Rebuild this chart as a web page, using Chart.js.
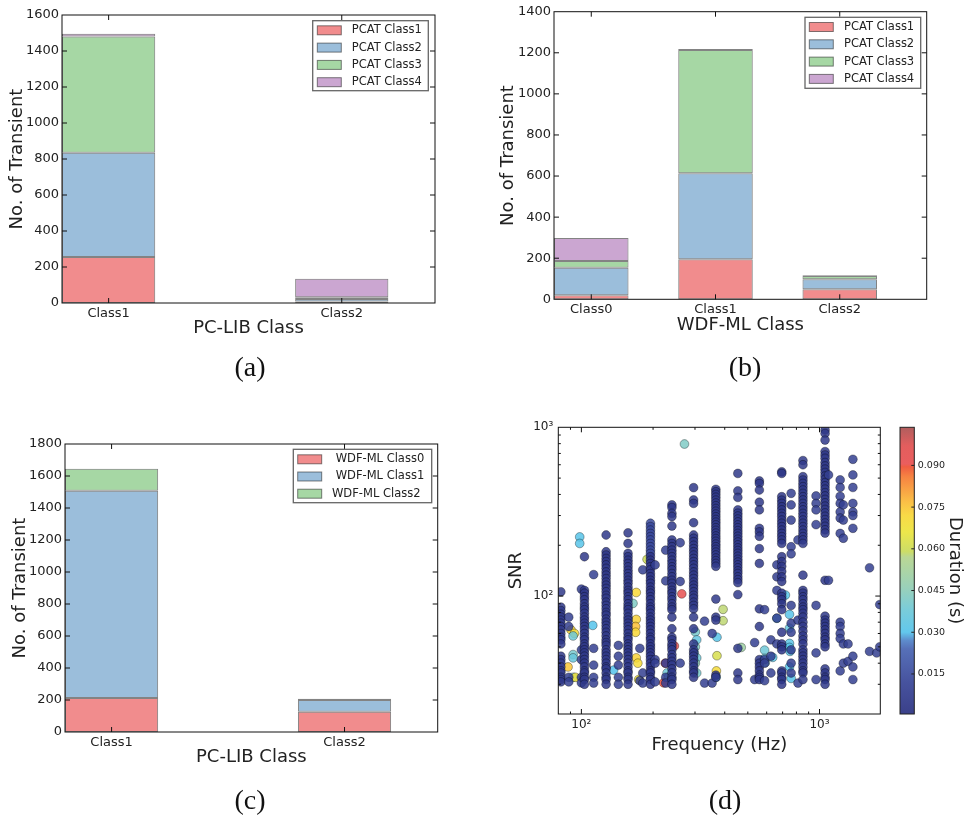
<!DOCTYPE html>
<html>
<head>
<meta charset="utf-8">
<script src="https://cdn.jsdelivr.net/npm/chart.js@4.4.1/dist/chart.umd.min.js"></script>
<style>
body { margin: 0; background: #fff; }
#page { position: relative; width: 966px; height: 816px; overflow: hidden; }
canvas { position: absolute; left: 0; top: 0; }
.cap { position: absolute; font-family: 'Liberation Serif', serif; font-size: 28px; color: #111; transform: translate(-50%, -50%); }
</style>
</head>
<body>
<div id="page">
  <canvas id="ca" width="966" height="816"></canvas>
  <canvas id="cb" width="966" height="816"></canvas>
  <canvas id="cc" width="966" height="816"></canvas>
  <canvas id="cd" width="966" height="816"></canvas>
  <canvas id="cbar" width="966" height="816"></canvas>
  <div class="cap" style="left:250px;top:367px">(a)</div>
  <div class="cap" style="left:745px;top:367px">(b)</div>
  <div class="cap" style="left:250px;top:800px">(c)</div>
  <div class="cap" style="left:725px;top:800px">(d)</div>
</div>
<script>
// ---- data ----
// (a) PC-LIB class broken down by PCAT class
const pclibClasses = ['Class1', 'Class2'];
const pcatLabels = ['PCAT Class1', 'PCAT Class2', 'PCAT Class3', 'PCAT Class4'];
const pclibPcat1 = [255, 8];
const pclibPcat2 = [580, 14];
const pclibPcat3 = [646, 10];
const pclibPcat4 = [15, 103];

// (b) WDF-ML class broken down by PCAT class
const wdfClasses = ['Class0', 'Class1', 'Class2'];
const wdfPcat1 = [20, 195, 49];
const wdfPcat2 = [134, 418, 48];
const wdfPcat3 = [33, 600, 17];
const wdfPcat4 = [111, 5, 3];

// (c) PC-LIB class broken down by WDF-ML class
const wdfLabels = [' WDF-ML Class0', ' WDF-ML Class1', 'WDF-ML Class2'];
const pclibWdf0 = [212, 127];
const pclibWdf1 = [1296, 73];
const pclibWdf2 = [138, 8];

// (d) SNR vs frequency, one column of triggers per frequency
const colFreq = [82, 88.5, 100, 103, 112.6, 127, 143, 157, 176, 181, 195, 195, 204, 226, 240, 260, 296, 329, 354, 367,
  454, 534, 559, 588, 625, 662, 694, 760, 812, 852, 967, 1055, 1091, 1221, 1259, 1318, 1381, 1622, 1738, 1790];
const colDur = [0.006, 0.009, 0.009, 0.005, 0.009, 0.005, 0.009, 0.005, 0.009, 0.009, 0.014, 0.004, 0.009, 0.009, 0.005, 0.009, 0.005, 0.009, 0.009, 0.006,
  0.006, 0.009, 0.005, 0.009, 0.009, 0.009, 0.004, 0.009, 0.009, 0.006, 0.009, 0.005, 0.009, 0.009, 0.009, 0.009, 0.009, 0.009, 0.009, 0.009];
const colSnr = [
  [106, 86, 82, 78, 75, 72, 69, 66, 63, 60, 57, 55, 52, 44, 42, 40, 38, 36, 35, 33, 32, 31],
  [75, 66, 33, 31],
  [110, 48, 42, 33, 30.6],
  [171, 108, 104, 99, 95, 90, 86, 83, 79, 75, 72, 69, 66, 63, 60, 57, 55, 52, 50, 48, 46, 44, 42, 40, 38, 36, 35, 33, 32, 30],
  [134, 49, 39, 33, 30.5],
  [230, 183, 175, 167, 160, 153, 146, 139, 133, 127, 121, 116, 111, 106, 101, 97, 92, 88, 84, 80, 77, 73, 70, 67, 64, 61, 58, 55, 53, 51, 48, 46, 44, 42, 40, 38, 37, 35, 33, 32, 30],
  [51, 44, 39, 33, 30],
  [237, 205, 179, 171, 163, 156, 149, 142, 136, 130, 124, 119, 113, 108, 104, 99, 95, 90, 86, 83, 79, 75, 72, 69, 66, 63, 60, 57, 55, 52, 50, 48, 46, 44, 42, 40, 38, 36, 35, 33, 32, 30],
  [49, 31.5],
  [143, 35, 30.5],
  [270, 258, 246, 235, 225, 215, 205, 196, 187, 179],
  [171, 163, 156, 149, 143, 136, 130, 124, 119, 113, 108, 104, 99, 95, 90, 86, 83, 79, 75, 72, 69, 66, 63, 60, 57, 55, 52, 50, 48, 46, 44, 42, 40, 38, 36, 35, 33, 32, 30],
  [153, 42, 40, 31],
  [187, 123, 40, 33, 30.5],
  [347, 335, 309, 296, 260, 215, 205, 196, 187, 179, 171, 163, 156, 149, 143, 136, 130, 124, 119, 113, 108, 104, 99, 95, 90, 86, 83, 75, 64, 57, 55, 52, 50, 48, 45, 43, 41, 39, 37, 35, 33, 32, 30],
  [207, 122, 40],
  [439, 371, 354, 272, 230, 220, 210, 200, 191, 183, 175, 167, 160, 153, 146, 139, 133, 127, 121, 116, 111, 106, 101, 97, 92, 88, 84, 75, 64, 52, 48, 46, 44, 42, 40, 38, 36, 35, 33],
  [71, 30.5],
  [60, 30.5],
  [429, 415, 400, 385, 370, 356, 343, 330, 318, 306, 295, 284, 274, 264, 254, 245, 236, 227, 219, 211, 203, 196, 189, 182, 175, 168, 162, 156, 150, 96, 75, 72, 34, 33],
  [533, 420, 384, 324, 310, 298, 286, 275, 264, 254, 244, 235, 226, 217, 209, 201, 193, 186, 179, 172, 165, 159, 153, 147, 141, 136, 130, 125, 120, 102, 49, 35, 32],
  [53, 32],
  [481, 465, 425, 360, 324, 252, 240, 226, 191, 156, 84, 66, 42, 40, 38, 36, 34, 33, 32],
  [83, 42, 40, 31.5],
  [55, 44, 35],
  [153, 130, 108, 74, 52],
  [545, 533, 388, 370, 354, 338, 324, 309, 296, 282, 270, 258, 246, 235, 225, 215, 205, 171, 160, 150, 140, 130, 122, 104, 99, 95, 90, 83, 61, 52, 50, 48, 36, 35, 33, 32, 30],
  [406, 347, 282, 196, 178, 88, 69, 61, 48, 40, 35],
  [215, 72, 30.5],
  [635, 600, 510, 487, 465, 445, 425, 406, 388, 371, 354, 338, 324, 309, 296, 282, 270, 258, 246, 235, 225, 215, 205, 133, 108, 104, 99, 95, 90, 86, 83, 79, 75, 70, 66, 62, 58, 55, 52, 48, 46, 44, 42, 40, 38, 36, 35, 32],
  [392, 354, 324, 265, 88, 46, 32],
  [964, 920, 840, 718, 685, 655, 618, 590, 565, 540, 515, 492, 470, 450, 430, 410, 392, 374, 357, 341, 326, 311, 297, 284, 271, 259, 247, 236, 124, 76, 72, 69, 66, 63, 60, 57, 55, 52, 50, 37, 35, 33, 32, 30],
  [522, 124],
  [488, 440, 390, 354, 315, 290, 235, 70, 66, 60, 56, 36],
  [347, 282, 220, 52, 40],
  [52, 41],
  [646, 522, 440, 354, 315, 300, 252, 44, 38, 32],
  [147, 47],
  [46],
  [89, 50]
];
// the longer-duration triggers (coloured points)
const hotFreq = [98.4, 98.4, 111.6, 271, 90.5, 93.5, 92.3, 92.3, 92.3, 92.3, 87.9, 94.4, 164.7, 170, 170, 169, 169, 170, 172.6, 174, 188.8, 136.6,
  225, 221.5, 229, 232, 245.8, 264, 301, 305, 301, 298, 305, 301, 305, 371, 371, 369, 368, 393.5, 393.5, 469,
  719, 662, 748, 748, 748, 748, 752, 748, 760, 588, 588, 592, 636];
const hotSnr = [224, 205, 67, 796, 63, 60, 58, 45, 43, 33, 38, 33, 90.5, 105, 72.7, 66, 61, 43, 40, 32, 165, 36.4,
  40, 30.6, 35, 33, 50.6, 103, 61.3, 55, 50, 46, 43, 40, 35, 57, 44.3, 36, 33, 83.4, 71.4, 49.6,
  101.4, 73.8, 77.8, 64.6, 52.4, 49.6, 47, 38, 32.5, 47.8, 42.7, 40.3, 43.3];
const hotDur = [0.031, 0.031, 0.030, 0.042, 0.072, 0.070, 0.038, 0.040, 0.036, 0.038, 0.075, 0.068, 0.042, 0.072, 0.073, 0.076, 0.072, 0.073, 0.070, 0.068, 0.060, 0.030,
  0.092, 0.090, 0.038, 0.040, 0.095, 0.092, 0.040, 0.035, 0.042, 0.036, 0.038, 0.045, 0.040, 0.031, 0.062, 0.070, 0.032, 0.058, 0.058, 0.050,
  0.031, 0.032, 0.031, 0.034, 0.032, 0.030, 0.031, 0.030, 0.031, 0.038, 0.036, 0.040, 0.032];

const freqTicks = [80, 90, 100, 200, 300, 400, 500, 600, 700, 800, 900, 1000];
const snrTicks = [20, 30, 40, 50, 60, 70, 80, 90, 100, 200, 300, 400, 500, 600, 700, 800, 900, 1000];
const majorVals = [100, 1000];
const majorLabels = ['10\u00b2', '10\u00b3'];
const durTicks = [0.015, 0.030, 0.045, 0.060, 0.075, 0.090];

// ---- styling helpers ----
Chart.defaults.font.family = "'DejaVu Sans', sans-serif";
Chart.defaults.color = '#222';

const set1 = ['rgba(228,26,28,0.5)', 'rgba(55,126,184,0.5)', 'rgba(77,175,74,0.5)', 'rgba(152,78,163,0.5)'];
const barEdge = 'rgba(30,30,30,0.55)';

// colour map sampled from the reference colour bar
const cmapStops = [
  [0.0006, [42, 48, 128]], [0.012, [55, 68, 150]], [0.024, [72, 100, 178]], [0.027, [80, 130, 200]],
  [0.030, [85, 195, 235]], [0.038, [110, 200, 215]], [0.046, [145, 205, 180]], [0.057, [180, 212, 140]],
  [0.059, [200, 218, 90]], [0.066, [235, 228, 60]], [0.072, [248, 215, 55]], [0.077, [250, 185, 55]],
  [0.086, [245, 120, 50]], [0.0895, [238, 80, 50]], [0.0905, [232, 80, 80]], [0.097, [225, 80, 80]],
  [0.1037, [170, 80, 80]]
];
function durColor(d, a) {
  let i = 0;
  while (i < cmapStops.length - 2 && d > cmapStops[i + 1][0]) i++;
  const [d0, c0] = cmapStops[i], [d1, c1] = cmapStops[i + 1];
  const t = Math.min(1, Math.max(0, (d - d0) / (d1 - d0)));
  const c = c0.map((v, k) => Math.round(v + (c1[k] - v) * t));
  return `rgba(${c[0]},${c[1]},${c[2]},${a})`;
}

// box frame + inward ticks on all four sides
const frameTicks = {
  id: 'frameTicks',
  afterDatasetsDraw(chart) {
    const { ctx, chartArea: a, scales: { x, y } } = chart;
    ctx.save();
    ctx.strokeStyle = '#111';
    ctx.lineWidth = 1;
    const isLog = x.type === 'logarithmic';
    x.ticks.forEach(t => {
      const px = x.getPixelForValue(t.value);
      if (px < a.left + 0.5 || px > a.right - 0.5) return;
      const len = !isLog || majorVals.includes(t.value) ? 5 : 2.5;
      ctx.beginPath();
      ctx.moveTo(px, a.bottom); ctx.lineTo(px, a.bottom - len);
      ctx.moveTo(px, a.top); ctx.lineTo(px, a.top + len);
      ctx.stroke();
    });
    y.ticks.forEach(t => {
      const py = y.getPixelForValue(t.value);
      if (py < a.top + 0.5 || py > a.bottom - 0.5) return;
      const len = !isLog || majorVals.includes(t.value) ? 5 : 2.5;
      ctx.beginPath();
      ctx.moveTo(a.left, py); ctx.lineTo(a.left + len, py);
      ctx.moveTo(a.right, py); ctx.lineTo(a.right - len, py);
      ctx.stroke();
    });
    ctx.strokeRect(a.left, a.top, a.right - a.left, a.bottom - a.top);
    ctx.restore();
  }
};

// matplotlib-style legend box inside the axes
const boxLegend = {
  id: 'boxLegend',
  afterDraw(chart, args, o) {
    const ctx = chart.ctx;
    ctx.save();
    ctx.fillStyle = '#fff';
    ctx.fillRect(o.x, o.y, o.w, o.h);
    ctx.strokeStyle = '#666';
    ctx.lineWidth = 1.3;
    ctx.strokeRect(o.x, o.y, o.w, o.h);
    ctx.font = "11.5px 'DejaVu Sans'";
    ctx.textBaseline = 'middle';
    chart.data.datasets.forEach((ds, k) => {
      const cy = o.row0 + k * o.gap;
      ctx.fillStyle = ds.backgroundColor;
      ctx.fillRect(o.px, cy - 4.5, 24, 9);
      ctx.strokeStyle = barEdge;
      ctx.lineWidth = 1;
      ctx.strokeRect(o.px, cy - 4.5, 24, 9);
      ctx.fillStyle = '#222';
      ctx.fillText(ds.label, o.tx, cy);
    });
    ctx.restore();
  }
};

function barPanel(id, cats, labels, series, opt) {
  const [l, t, r, b] = opt.area;
  new Chart(document.getElementById(id), {
    type: 'bar',
    data: {
      datasets: labels.map((lab, k) => ({
        label: lab,
        data: cats.map((c, i) => ({ x: i, y: series[k][i] })),
        backgroundColor: set1[k],
        borderColor: barEdge,
        borderWidth: 1,
        borderSkipped: false
      }))
    },
    options: {
      responsive: false,
      animation: false,
      layout: { padding: { left: l - opt.yW, top: t, right: 966 - r, bottom: 816 - b - opt.xH } },
      datasets: { bar: { barPercentage: opt.barW, categoryPercentage: 1 } },
      plugins: { legend: { display: false }, tooltip: { enabled: false }, boxLegend: opt.legend },
      scales: {
        x: {
          type: 'linear', stacked: true, offset: false, min: opt.xMin, max: opt.xMax,
          afterBuildTicks: s => { s.ticks = cats.map((c, i) => ({ value: i })); },
          ticks: { callback: v => cats[v], font: { size: 13 }, padding: 3, autoSkip: false, maxRotation: 0 },
          grid: { display: false, drawTicks: false },
          border: { display: false },
          title: { display: true, text: opt.xTitle, font: { size: 18 }, padding: 0 },
          afterFit: s => { s.height = opt.xH; }
        },
        y: {
          stacked: true, min: 0, max: opt.yMax,
          ticks: { stepSize: 200, font: { size: 13 }, padding: 3, callback: v => String(v) },
          grid: { display: false, drawTicks: false },
          border: { display: false },
          title: { display: true, text: 'No. of Transient', font: { size: 18 }, padding: 0 },
          afterFit: s => { s.width = opt.yW; }
        }
      }
    },
    plugins: [frameTicks, boxLegend]
  });
}

// (a)
barPanel('ca', pclibClasses, pcatLabels, [pclibPcat1, pclibPcat2, pclibPcat3, pclibPcat4], {
  area: [62, 15, 435, 303], yW: 55.5, xH: 35.8, barW: 0.4, xMin: -0.2, xMax: 1.4, yMax: 1600,
  xTitle: 'PC-LIB Class',
  legend: { x: 312.7, y: 20.7, w: 115.6, h: 70, row0: 30.3, gap: 17.3, px: 317.3, tx: 351.7 }
});
// (b)
barPanel('cb', wdfClasses, pcatLabels, [wdfPcat1, wdfPcat2, wdfPcat3, wdfPcat4], {
  area: [554, 11.7, 926.7, 299.3], yW: 56.5, xH: 36.5, barW: 0.6, xMin: -0.3, xMax: 2.7, yMax: 1400,
  xTitle: 'WDF-ML Class',
  legend: { x: 805, y: 17.3, w: 115.7, h: 71, row0: 27, gap: 17.3, px: 809.3, tx: 844 }
});
// (c)
barPanel('cc', pclibClasses, wdfLabels, [pclibWdf0, pclibWdf1, pclibWdf2], {
  area: [65, 444, 437.7, 732], yW: 55.8, xH: 36.1, barW: 0.4, xMin: -0.2, xMax: 1.4, yMax: 1800,
  xTitle: 'PC-LIB Class',
  legend: { x: 293.3, y: 449.3, w: 138.4, h: 53.4, row0: 459.3, gap: 17.2, px: 297.7, tx: 332 }
});

// (d) scatter
const darkPts = [], darkCols = [];
colFreq.forEach((f, i) => {
  colSnr[i].forEach(s => {
    darkPts.push({ x: f, y: s });
    darkCols.push(durColor(colDur[i], 0.85));
  });
});
const hotPts = hotFreq.map((f, i) => ({ x: f, y: hotSnr[i] }));
const hotCols = hotDur.map(d => durColor(d, 0.85));

const logLabel = v => { const k = majorVals.indexOf(v); return k >= 0 ? majorLabels[k] : ''; };

new Chart(document.getElementById('cd'), {
  type: 'scatter',
  data: {
    datasets: [
      { data: darkPts, backgroundColor: darkCols },
      { data: hotPts, backgroundColor: hotCols }
    ]
  },
  options: {
    responsive: false,
    animation: false,
    layout: { padding: { left: 558.3 - 53.1, top: 427.3, right: 966 - 880.3, bottom: 816 - 714 - 41.8 } },
    elements: { point: { radius: 4.4, borderWidth: 0.6, borderColor: 'rgba(0,0,0,0.55)' } },
    plugins: { legend: { display: false }, tooltip: { enabled: false } },
    scales: {
      x: {
        type: 'logarithmic', min: 80, max: 1800,
        afterBuildTicks: s => { s.ticks = freqTicks.map(v => ({ value: v })); },
        ticks: { callback: logLabel, font: { size: 12 }, padding: 4, autoSkip: false, maxRotation: 0 },
        grid: { display: false, drawTicks: false },
        border: { display: false },
        title: { display: true, text: 'Frequency (Hz)', font: { size: 18 }, padding: 0 },
        afterFit: s => { s.height = 41.8; }
      },
      y: {
        type: 'logarithmic', min: 20, max: 1000,
        afterBuildTicks: s => { s.ticks = snrTicks.map(v => ({ value: v })); },
        ticks: { callback: logLabel, font: { size: 12 }, padding: 5, autoSkip: false },
        grid: { display: false, drawTicks: false },
        border: { display: false },
        title: { display: true, text: 'SNR', font: { size: 18 }, padding: 0 },
        afterFit: s => { s.width = 53.1; }
      }
    }
  },
  plugins: [frameTicks]
});

// colour bar for (d)
const cbFill = {
  id: 'cbFill',
  beforeDraw(chart) {
    const { ctx, chartArea: a, scales: { y } } = chart;
    const g = ctx.createLinearGradient(0, a.bottom, 0, a.top);
    cmapStops.forEach(([d, c]) => {
      const t = (y.getPixelForValue(d) - a.bottom) / (a.top - a.bottom);
      g.addColorStop(Math.min(1, Math.max(0, t)), `rgba(${c[0]},${c[1]},${c[2]},0.92)`);
    });
    ctx.save();
    ctx.fillStyle = g;
    ctx.fillRect(a.left, a.top, a.right - a.left, a.bottom - a.top);
    ctx.strokeStyle = '#222';
    ctx.lineWidth = 1;
    ctx.strokeRect(a.left, a.top, a.right - a.left, a.bottom - a.top);
    ctx.beginPath();
    durTicks.forEach(v => {
      const py = y.getPixelForValue(v);
      ctx.moveTo(a.right, py); ctx.lineTo(a.right - 3, py);
    });
    ctx.stroke();
    ctx.restore();
  }
};

new Chart(document.getElementById('cbar'), {
  type: 'scatter',
  data: { datasets: [] },
  options: {
    responsive: false,
    animation: false,
    layout: { padding: { left: 900, top: 427.3, right: 966 - 914.3 - 51.5, bottom: 816 - 714 } },
    plugins: { legend: { display: false }, tooltip: { enabled: false } },
    scales: {
      x: { display: false, min: 0, max: 1 },
      y: {
        position: 'right', min: 0.0006, max: 0.1037,
        afterBuildTicks: s => { s.ticks = durTicks.map(v => ({ value: v })); },
        ticks: { callback: v => v.toFixed(3), font: { size: 9.5 }, padding: 3.5 },
        grid: { display: false, drawTicks: false },
        border: { display: false },
        title: { display: true, text: 'Duration (s)', font: { size: 18 }, padding: 0 },
        afterFit: s => { s.width = 51.5; }
      }
    }
  },
  plugins: [cbFill]
});
</script>
</body>
</html>
